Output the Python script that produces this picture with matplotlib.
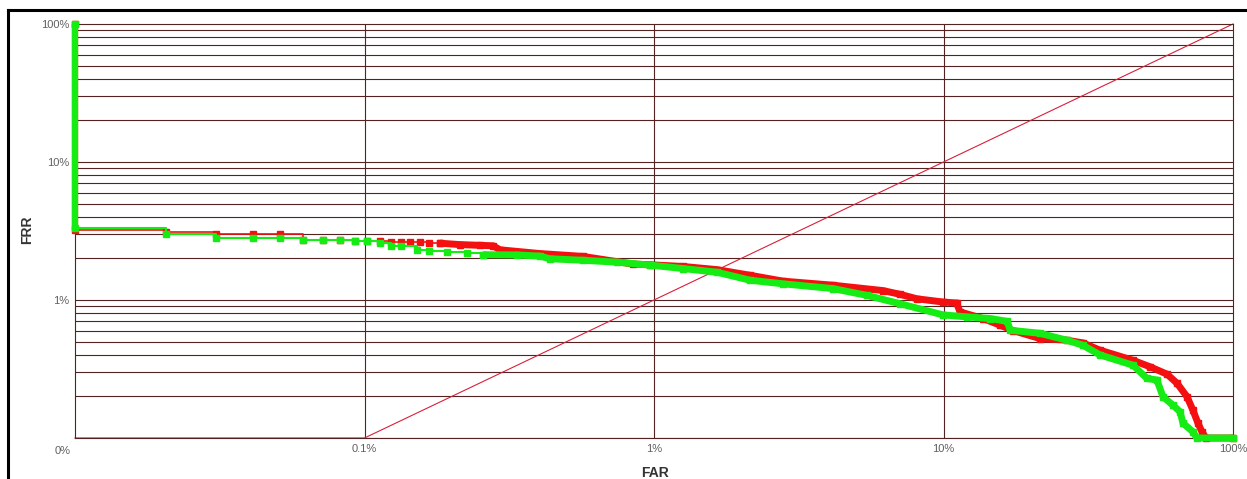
import numpy as np
import matplotlib
matplotlib.use("Agg")
import matplotlib.pyplot as plt
from matplotlib.lines import Line2D

# FAR / FRR in percent (0 = plotted on the axis floor)
red_far = [0, 0, 0.0206, 0.0307, 0.0412, 0.0511, 0.0613, 0.0719, 0.0823, 0.0927,
           0.102, 0.113, 0.123, 0.134, 0.144, 0.155, 0.167, 0.182, 0.214, 0.251,
           0.278, 0.294, 0.404, 0.568, 0.846, 0.969, 1.26, 1.65, 2.15, 2.79,
           4.15, 6.18, 7.07, 8.10, 9.96, 11.1, 11.4, 13.7, 15.7, 17.4, 21.5,
           26.7, 30.3, 34.7, 45.1, 51.7, 59.2, 64.1, 69.4, 72.7, 75.7, 78.1, 80.7, 100]
red_frr = [100, 3.19, 3.10, 2.99, 2.99, 2.99, 2.70, 2.70, 2.70, 2.68,
           2.66, 2.66, 2.65, 2.65, 2.64, 2.62, 2.60, 2.58, 2.52, 2.49,
           2.47, 2.31, 2.17, 2.07, 1.82, 1.80, 1.75, 1.66, 1.51, 1.37,
           1.28, 1.17, 1.10, 1.02, 0.967, 0.951, 0.82, 0.734, 0.656, 0.60, 0.526,
           0.511, 0.489, 0.433, 0.366, 0.328, 0.290, 0.249, 0.199, 0.159, 0.128, 0.111, 0, 0]

green_far = [0, 0, 0.0206, 0.0307, 0.0412, 0.0511, 0.0613, 0.0719, 0.0823, 0.0927,
             0.102, 0.113, 0.123, 0.134, 0.152, 0.167, 0.193, 0.226, 0.257, 0.336,
             0.404, 0.437, 0.568, 0.745, 0.969, 1.26, 1.65, 2.15, 2.79, 4.15,
             5.44, 7.07, 9.96, 12.1, 14.5, 16.6, 17.0, 21.5, 26.7, 30.3, 34.7,
             45.1, 50.5, 54.6, 57.3, 62.0, 65.6, 67.2, 72.7, 75.0, 100]
green_frr = [100, 3.34, 3.03, 2.83, 2.83, 2.83, 2.70, 2.70, 2.70, 2.66,
             2.66, 2.58, 2.45, 2.45, 2.29, 2.27, 2.22, 2.19, 2.13, 2.12,
             2.08, 1.99, 1.94, 1.88, 1.79, 1.69, 1.59, 1.39, 1.31, 1.21,
             1.08, 0.94, 0.78, 0.754, 0.734, 0.70, 0.604, 0.574, 0.511, 0.47, 0.40,
             0.337, 0.27, 0.263, 0.199, 0.173, 0.155, 0.128, 0.111, 0, 0]

x_ticks = [0.1, 1, 10, 100]
x_labels = ["0.1%", "1%", "10%", "100%"]
y_ticks = [1, 10, 100]
y_labels = ["1%", "10%", "100%"]

xmin, xmax = 0.01, 100
ymin, ymax = 0.1, 100

grid_col = "#552222"
red = "#f41010"
green = "#14ec14"

fig = plt.figure(figsize=(12.47, 4.79), dpi=100)
ax = fig.add_axes([75 / 1247, 1 - 438 / 479, 1158 / 1247, 414 / 479])
ax.set_xscale("log")
ax.set_yscale("log")
ax.set_xlim(xmin, xmax)
ax.set_ylim(ymin, ymax)

# grid: decades on x, every minor step on y
for d in [0.1, 1, 10]:
    for k in range(1, 10):
        ax.axhline(d * k, color=grid_col, lw=0.8, zorder=1)
for d in [0.1, 1, 10]:
    ax.axvline(d, color=grid_col, lw=0.8, zorder=1)
for s in ax.spines.values():
    s.set_color(grid_col)
    s.set_linewidth(0.8)

# y = x reference line
ax.plot([xmin, 0.1, 100], [ymin, ymin, 100], color="#d8203a", lw=0.8,
        zorder=2, clip_on=False)


def draw_curve(far, frr, color, thin_lw, dense_from):
    far = np.clip(np.array(far), xmin, None)
    frr = np.clip(np.array(frr), ymin, None)
    i = np.searchsorted(far, dense_from)
    # sparse part: thin steps with square markers
    ax.plot(far[:i + 1], frr[:i + 1], drawstyle="steps-post", color=color, lw=thin_lw,
            marker="s", ms=5, mec=color, zorder=3, clip_on=False)
    # dense part: many small steps -> thick band
    ax.plot(far[i:], frr[i:], color=color, lw=5, marker="s", ms=5, mec=color,
            solid_joinstyle="miter", solid_capstyle="butt", zorder=3, clip_on=False)
    # thick vertical at FAR = 0
    ax.plot(far[:2], frr[:2], color=color, lw=4.5, solid_capstyle="butt",
            zorder=3, clip_on=False)


draw_curve(red_far, red_frr, red, 1.2, 0.18)
draw_curve(green_far, green_frr, green, 1.5, 0.25)

ax.set_xticks(x_ticks)
ax.set_xticklabels(x_labels)
ax.set_yticks(y_ticks)
ax.set_yticklabels(y_labels)
ax.minorticks_off()
ax.tick_params(length=0, labelsize=8, labelcolor="#606060", pad=4)
for lbl in ax.get_xticklabels() + ax.get_yticklabels():
    lbl.set_fontfamily("Liberation Sans")
ax.annotate("0%", xy=(xmin, ymin), xytext=(-4, -13), textcoords="offset pixels",
            ha="right", va="center", fontsize=8, color="#606060",
            family="Liberation Sans")

fig.text(27 / 1247, 1 - 230 / 479, "FRR", rotation=90, ha="center", va="center",
         fontsize=10, fontweight="bold", color="#333333", family="Liberation Sans")
fig.text(655 / 1247, 1 - 473 / 479, "FAR", ha="center", va="center",
         fontsize=10, fontweight="bold", color="#333333", family="Liberation Sans")

# outer black frame (top and left)
fig.add_artist(Line2D([8 / 1247, 1], [1 - 10 / 479, 1 - 10 / 479],
                      color="black", lw=2.2, transform=fig.transFigure))
fig.add_artist(Line2D([8 / 1247, 8 / 1247], [0, 1 - 10 / 479],
                      color="black", lw=2.2, transform=fig.transFigure))

fig.savefig("out.png", dpi=100)
